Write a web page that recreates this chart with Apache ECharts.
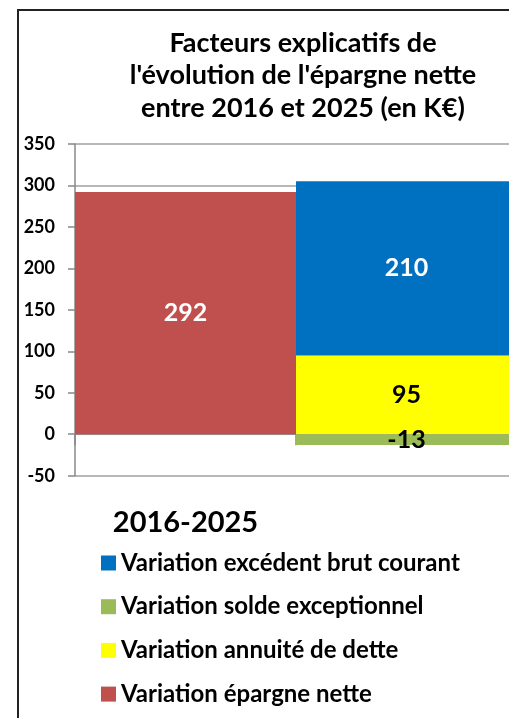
<!DOCTYPE html>
<html>
<head>
<meta charset="utf-8">
<style>
  html, body { margin: 0; padding: 0; background: #fff; }
  #chart { width: 509px; height: 718px; }
</style>
<script src="https://cdn.jsdelivr.net/npm/echarts@6/dist/echarts.min.js"></script>
</head>
<body>
<div id="chart"></div>
<script>
// Period shown on the category axis (second slot holds the stacked factors)
const categories = ['2016-2025', ''];

// Values in K€
const epargneNette = [292, '-'];
const annuiteDette = ['-', 95];
const excedentBrut = ['-', 210];
const soldeExceptionnel = ['-', -13];

const yTicks = { min: -50, max: 350, interval: 50 };

const FONT = 'Lato';
const chart = echarts.init(document.getElementById('chart'), null, { renderer: 'canvas' });

function barSeries(name, data, color, labelColor) {
  return {
    name: name,
    type: 'bar',
    stack: 'total',
    data: data,
    barCategoryGap: '0%',
    itemStyle: { color: color },
    label: {
      show: true,
      position: 'inside',
      formatter: '{c}',
      color: labelColor,
      fontFamily: FONT,
      fontWeight: 'bold',
      fontSize: 25
    }
  };
}

chart.setOption({
  animation: false,
  title: {
    text: 'Facteurs explicatifs de\nl\'évolution de l\'épargne nette\nentre 2016 et 2025 (en K€)',
    left: 298,
    top: 22,
    textAlign: 'center',
    textStyle: {
      fontFamily: FONT,
      fontWeight: 'bold',
      fontSize: 27,
      lineHeight: 32.5,
      color: '#000'
    }
  },
  legend: {
    orient: 'vertical',
    left: 96,
    top: 546,
    itemWidth: 15,
    itemHeight: 15,
    itemGap: 19.7,
    icon: 'rect',
    data: ['Variation excédent brut courant', 'Variation solde exceptionnel', 'Variation annuité de dette', 'Variation épargne nette'],
    textStyle: {
      fontFamily: FONT,
      fontWeight: 'bold',
      fontSize: 24,
      lineHeight: 24,
      color: '#000'
    }
  },
  grid: { left: 75, top: 144, width: 442, height: 331.7, outerBoundsMode: 'none' },
  xAxis: {
    type: 'category',
    data: categories,
    axisLine: { onZero: true, lineStyle: { color: '#888', width: 1.5 } },
    axisTick: { show: true, length: 11, lineStyle: { color: '#888', width: 1.5 } },
    axisLabel: {
      interval: 0,
      margin: 32,
      color: '#000',
      fontFamily: FONT,
      fontWeight: 'bold',
      fontSize: 29
    }
  },
  yAxis: {
    type: 'value',
    min: yTicks.min,
    max: yTicks.max,
    interval: yTicks.interval,
    axisLine: { show: true, lineStyle: { color: '#888', width: 1.5 } },
    axisTick: { show: true, length: 7, lineStyle: { color: '#888', width: 1.5 } },
    splitLine: { show: true, lineStyle: { color: '#a0a0a0', width: 1.5 } },
    axisLabel: {
      margin: 20,
      color: '#000',
      fontFamily: FONT,
      fontWeight: 'bold',
      fontSize: 18
    }
  },
  series: [
    barSeries('Variation épargne nette', epargneNette, '#C0504D', '#fff'),
    barSeries('Variation annuité de dette', annuiteDette, '#FFFF00', '#000'),
    barSeries('Variation excédent brut courant', excedentBrut, '#0070C0', '#fff'),
    barSeries('Variation solde exceptionnel', soldeExceptionnel, '#9BBB59', '#000')
  ],
  graphic: [{
    type: 'polyline',
    silent: true,
    shape: { points: [[18, 718], [18, 10], [509, 10]] },
    style: { stroke: '#222', lineWidth: 2, fill: null }
  }]
});
</script>
</body>
</html>
